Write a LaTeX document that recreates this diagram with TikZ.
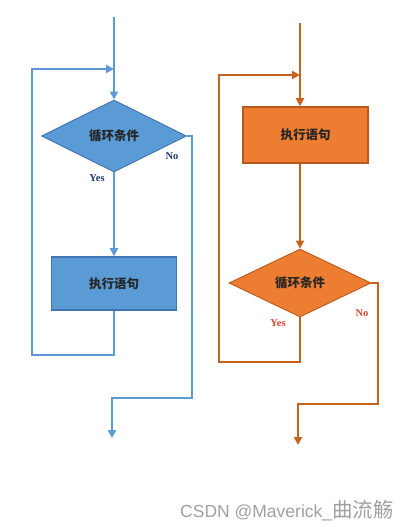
\documentclass[tikz,border=0pt]{standalone}
\usepackage{fontspec}
\setmainfont{Liberation Sans}
\newfontfamily\cjk{Noto Sans CJK SC}
\newfontfamily\ynfont{Liberation Serif}
\usetikzlibrary{shapes.geometric,arrows.meta}
\definecolor{bline}{HTML}{5B9BD5}
\definecolor{bfill}{HTML}{5B9BD5}
\definecolor{bedge}{HTML}{3F74AE}
\definecolor{oline}{HTML}{C9611F}
\definecolor{ofill}{HTML}{ED7D31}
\definecolor{oedge}{HTML}{B85A1E}
\definecolor{navy}{HTML}{1F3864}
\definecolor{ored}{HTML}{D9452B}
\definecolor{wm}{HTML}{A0A0A0}
\tikzset{
  bflow/.style={draw=bline, line width=2.3pt},
  oflow/.style={draw=oline, line width=2.3pt},
  tip/.style={-{Triangle[length=8pt,width=8pt]}},
  bdiam/.style={diamond, draw=bedge, fill=bfill, line width=0.9pt, minimum width=145pt, minimum height=72pt, inner sep=0pt, font=\cjk\bfseries\fontsize{12.5}{14}\selectfont, text=black!85},
  odiam/.style={diamond, draw=oedge, fill=ofill, line width=0.9pt, minimum width=142pt, minimum height=68pt, inner sep=0pt, font=\cjk\bfseries\fontsize{12.5}{14}\selectfont, text=black!85},
  bbox/.style={rectangle, draw=bedge, fill=bfill, line width=1.6pt, minimum width=125pt, minimum height=53pt, inner sep=0pt, font=\cjk\bfseries\fontsize{12.5}{14}\selectfont, text=black!85},
  obox/.style={rectangle, draw=oedge, fill=ofill, line width=1.6pt, minimum width=125pt, minimum height=56pt, inner sep=0pt, font=\cjk\bfseries\fontsize{12.5}{14}\selectfont, text=black!85},
  blab/.style={font=\ynfont\bfseries\fontsize{10.5}{12}\selectfont, text=navy, inner sep=0pt},
  olab/.style={font=\ynfont\bfseries\fontsize{10.5}{12}\selectfont, text=ored, inner sep=0pt},
}
\begin{document}
\begin{tikzpicture}[x=1pt,y=-1pt]
\useasboundingbox (0,0) rectangle (414,527);
% ---------- left (blue) ----------
\coordinate (lt) at (114,17);
\node[bdiam] (ld) at (114,136) {循环条件};
\node[bbox] (lb) at (114,283.5) {执行语句};
\node[blab] (lno) at (172,156) {No};
\node[blab] (lyes) at (97,178) {Yes};
\coordinate (lloop) at (114,69);
\coordinate (lout) at (112,438);
\draw[bflow,tip] (lt) -- (ld.north);
\draw[bflow,tip] (ld.south) -- (lb.north);
\draw[bflow,tip] (lb.south) -- (114,355) -- (32,355) -- (32,69) -- (lloop);
\draw[bflow,tip] (ld.east) -- (192,136) -- (192,398) -- (112,398) -- (lout);
% ---------- right (orange) ----------
\coordinate (rt) at (300,23);
\node[obox] (rb) at (305.5,135) {执行语句};
\node[odiam] (rd) at (300,283) {循环条件};
\node[olab] (ryes) at (278,323) {Yes};
\node[olab] (rno) at (362,313) {No};
\coordinate (rloop) at (300,75);
\coordinate (rout) at (298,445);
\draw[oflow,tip] (rt) -- (rt |- rb.north);
\draw[oflow,tip] (rt |- rb.south) -- (rd.north);
\draw[oflow,tip] (rd.south) -- (300,362) -- (219,362) -- (219,75) -- (rloop);
\draw[oflow,tip] (rd.east) -- (378,283) -- (378,404) -- (298,404) -- (rout);
% ---------- watermark ----------
\node[anchor=west, text=wm, inner sep=0pt, font=\fontsize{17.5}{19}\selectfont] (wmk) at (180,511) {CSDN @Maverick\_{\cjk\fontsize{20.5}{22}\selectfont 曲流觞}};
\end{tikzpicture}
\end{document}
